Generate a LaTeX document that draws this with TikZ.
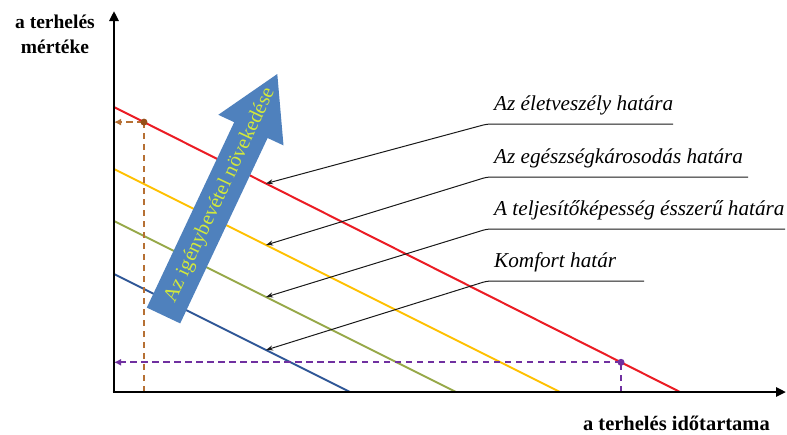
\documentclass[tikz,border=0pt]{standalone}
\usepackage{fontspec}
\setmainfont{Liberation Serif}
\usetikzlibrary{arrows.meta,calc}
\definecolor{limred}{RGB}{235,28,36}
\definecolor{limyellow}{RGB}{255,192,0}
\definecolor{limgreen}{RGB}{150,168,72}
\definecolor{limblue}{RGB}{46,86,150}
\definecolor{markbrown}{RGB}{182,112,52}
\definecolor{markbrowndot}{RGB}{150,80,25}
\definecolor{markpurple}{RGB}{112,48,160}
\definecolor{bigarrow}{RGB}{79,129,189}
\definecolor{arrowtext}{RGB}{210,232,60}
\tikzset{
  axis/.style={line width=2.6pt,-{Triangle[length=10pt,width=9pt]}},
  limit/.style={line width=2pt},
  leader/.style={line width=1pt,black!90,{Stealth[length=7pt,width=5pt]}-,rounded corners=4pt},
  helper/.style={line width=2.2pt,dash pattern=on 6.5pt off 4.5pt},
  lbl/.style={anchor=base west,inner sep=0pt,font=\fontsize{21.2}{23}\selectfont\itshape},
  axlbl/.style={inner sep=0pt,anchor=base,font=\fontsize{19.5}{21}\selectfont\bfseries},
  dot/.style={circle,inner sep=0pt,minimum size=7pt}
}
\begin{document}
\begin{tikzpicture}[x=1pt,y=-1pt]
\useasboundingbox (0,0) rectangle (787,434);
% axes
\coordinate (O) at (114,392);
\coordinate (ytip) at (114,11);
\coordinate (xtip) at (786,392);
% end points of the four limit lines
\coordinate (r1) at (114,107); \coordinate (r2) at (680,392);
\coordinate (y1) at (114,169); \coordinate (y2) at (560,392);
\coordinate (g1) at (114,221); \coordinate (g2) at (456,392);
\coordinate (b1) at (114,274); \coordinate (b2) at (350,392);

% limit lines
\draw[limit,limblue] (b1) -- (b2);
\draw[limit,limgreen] (g1) -- (g2);
\draw[limit,limyellow] (y1) -- (y2);
\draw[limit,limred] (r1) -- (r2);

% points
\coordinate (pb) at ($(r1)!{30/566}!(r2)$);
\coordinate (pp) at ($(r1)!{507/566}!(r2)$);
\coordinate (pbx) at (pb |- O);
\coordinate (pby) at (pb -| O);
\coordinate (ppx) at (pp |- O);
\coordinate (ppy) at (pp -| O);
\draw[helper,markbrown] (pbx) -- (pb);
\draw[helper,markbrown,-{Latex[length=7pt,width=7pt]}] (pb) -- (pby);
\node[dot,fill=markbrowndot] (pbdot) at (pb) {};
\draw[helper,markpurple] (ppx) -- (pp);
\draw[helper,markpurple,-{Latex[length=7pt,width=7pt]}] (pp) -- (ppy);
\node[dot,fill=markpurple] (ppdot) at (pp) {};

% the axes
\draw[axis] (O) -- (ytip);
\draw[axis] ($(O)+(-1.3,0)$) -- (xtip);

% growing demand arrow
\fill[bigarrow] (146.8,307.6) -- (234.2,122.2) -- (218.3,114.8) -- (277.3,74.0)
  -- (283.5,145.4) -- (267.6,138.0) -- (180.2,323.4) -- cycle;
\node[rotate=64.78,text=arrowtext,inner sep=0pt,font=\fontsize{20.5}{22}\selectfont] (demand)
  at (220.2,195.5) {Az igénybevétel növekedése};

% leader lines with their labels
\coordinate (t1) at ($(r1)!{152/566}!(r2)$);
\coordinate (t2) at ($(y1)!{152/446}!(y2)$);
\coordinate (t3) at ($(g1)!{152/342}!(g2)$);
\coordinate (t4) at ($(b1)!{152/236}!(b2)$);
\coordinate (k1) at (487,124); \coordinate (e1) at (673,124);
\coordinate (k2) at (487,177); \coordinate (e2) at (748,177);
\coordinate (k3) at (487,229); \coordinate (e3) at (785,229);
\coordinate (k4) at (487,281); \coordinate (e4) at (644,281);
\draw[leader] (t1) -- (k1) -- (e1);
\draw[leader] (t2) -- (k2) -- (e2);
\draw[leader] (t3) -- (k3) -- (e3);
\draw[leader] (t4) -- (k4) -- (e4);
\node[lbl] (l1) at (494,110) {Az életveszély határa};
\node[lbl] (l2) at (494,163) {Az egészségkárosodás határa};
\node[lbl] (l3) at (494,215) {A teljesítőképesség ésszerű határa};
\node[lbl] (l4) at (494,267) {Komfort határ};

% axis titles
\node[axlbl] (ylab1) at (55,28) {a terhelés};
\node[axlbl] (ylab2) at (55,53) {mértéke};
\node[axlbl,anchor=base east,font=\fontsize{20.5}{22}\selectfont\bfseries] (xlab) at (770,430) {a terhelés időtartama};
\end{tikzpicture}
\end{document}
